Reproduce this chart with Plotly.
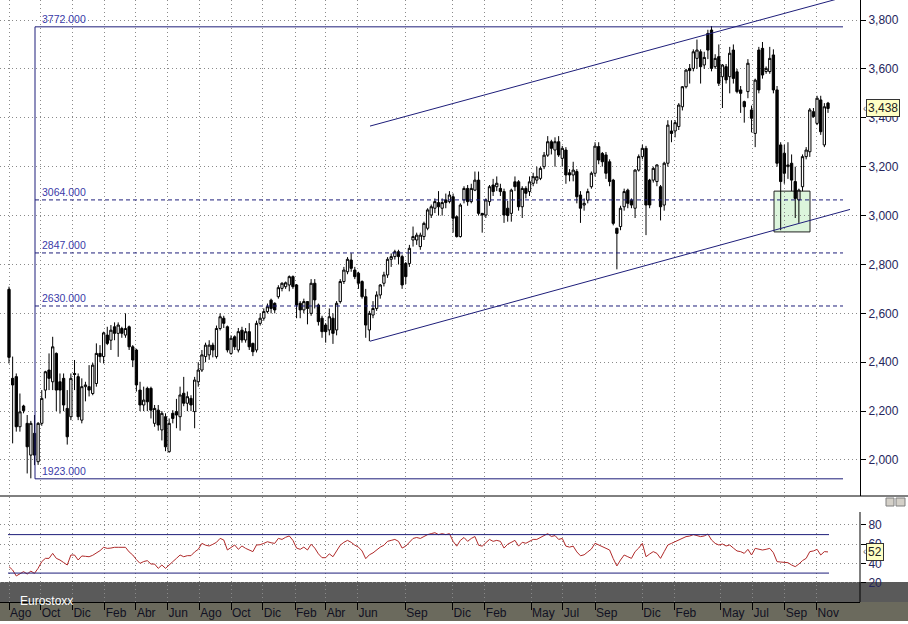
import pandas as pd
import plotly.graph_objects as go

# ---------------- data (weekly Eurostoxx candles) ----------------
start_date = "2011-08-01"

open_ = [
2698, 2334, 2341, 2136, 2221, 2150, 2020, 2109, 1993, 2150,
2286, 2368, 2320, 2436, 2320, 2334, 2211, 2177, 2354, 2341,
2163, 2300, 2300, 2272, 2313, 2436, 2423, 2511, 2490, 2545,
2518, 2538, 2511, 2545, 2463, 2450, 2286, 2225, 2293, 2293,
2150, 2204, 2123, 2177, 2034, 2191, 2198, 2177, 2273, 2232,
2252, 2198, 2320, 2368, 2423, 2430, 2470, 2423, 2538, 2580,
2545, 2436, 2504, 2450, 2531, 2491, 2525, 2477, 2450, 2559,
2580, 2607, 2654, 2641, 2668, 2702, 2709, 2716, 2750, 2716,
2641, 2614, 2648, 2600, 2723, 2634, 2580, 2552, 2532, 2580,
2532, 2648, 2730, 2770, 2818, 2777, 2764, 2730, 2668, 2532,
2593, 2620, 2675, 2723, 2757, 2821, 2832, 2852, 2832, 2804,
2804, 2900, 2900, 2873, 2914, 2948, 3002, 3030, 3053, 3030,
3064, 3057, 3077, 2995, 2914, 3064, 3111, 3057, 3104, 3145,
3009, 3002, 3057, 3125, 3118, 3111, 3098, 3030, 3009, 3138,
3138, 3036, 3111, 3098, 3132, 3145, 3152, 3200, 3247, 3302,
3268, 3302, 3234, 3268, 3175, 3166, 3180, 3084, 3043, 3063,
3118, 3173, 3282, 3254, 3248, 3220, 3145, 2948, 2955, 3036,
3104, 3063, 3030, 3186, 3241, 3275, 3145, 3145, 3139, 3118,
3043, 3214, 3346, 3346, 3364, 3445, 3527, 3602, 3602, 3643,
3670, 3616, 3745, 3759, 3609, 3650, 3568, 3609, 3568, 3677,
3588, 3514, 3466, 3507, 3432, 3336, 3677, 3684, 3589, 3589,
3657, 3514, 3289, 3255, 3200, 3214, 3139, 3064, 3118, 3241,
3261, 3425, 3377, 3473, 3289, 3460]

high = [
2709, 2423, 2354, 2272, 2226, 2184, 2160, 2184, 2155, 2286,
2365, 2436, 2504, 2440, 2354, 2354, 2286, 2354, 2409, 2354,
2334, 2320, 2388, 2397, 2477, 2470, 2525, 2545, 2552, 2563,
2563, 2545, 2600, 2550, 2470, 2455, 2320, 2300, 2300, 2300,
2225, 2225, 2200, 2191, 2170, 2204, 2250, 2300, 2340, 2280,
2265, 2340, 2400, 2450, 2480, 2490, 2480, 2550, 2600, 2590,
2550, 2510, 2510, 2540, 2545, 2540, 2560, 2480, 2570, 2600,
2620, 2640, 2660, 2645, 2715, 2727, 2730, 2755, 2755, 2720,
2650, 2660, 2650, 2740, 2740, 2640, 2590, 2560, 2620, 2600,
2650, 2740, 2790, 2830, 2846, 2790, 2770, 2735, 2700, 2610,
2650, 2690, 2720, 2770, 2830, 2845, 2860, 2860, 2840, 2810,
2880, 2955, 2930, 2930, 2975, 3030, 3045, 3070, 3100, 3070,
3090, 3100, 3090, 3000, 3050, 3120, 3125, 3130, 3180, 3180,
3010, 3070, 3125, 3150, 3160, 3130, 3110, 3060, 3110, 3160,
3145, 3120, 3120, 3160, 3175, 3200, 3200, 3260, 3325, 3310,
3320, 3325, 3285, 3280, 3190, 3220, 3190, 3100, 3070, 3110,
3180, 3300, 3300, 3260, 3260, 3230, 3150, 2950, 3040, 3110,
3110, 3070, 3190, 3250, 3290, 3285, 3150, 3200, 3210, 3125,
3220, 3390, 3390, 3390, 3460, 3530, 3600, 3620, 3680, 3720,
3680, 3670, 3760, 3775, 3660, 3700, 3620, 3620, 3690, 3700,
3600, 3530, 3470, 3640, 3450, 3560, 3690, 3710, 3610, 3690,
3680, 3530, 3300, 3290, 3300, 3250, 3200, 3110, 3250, 3280,
3440, 3440, 3490, 3490, 3460, 3465]

low = [
2395, 2068, 2116, 2116, 2191, 1945, 1925, 1979, 1980, 2140,
2252, 2286, 2286, 2200, 2190, 2200, 2063, 2163, 2286, 2163,
2150, 2240, 2260, 2265, 2300, 2400, 2395, 2470, 2450, 2490,
2422, 2500, 2500, 2450, 2380, 2280, 2200, 2200, 2200, 2170,
2136, 2120, 2080, 2036, 2030, 2150, 2130, 2120, 2220, 2200,
2200, 2130, 2300, 2360, 2400, 2410, 2420, 2415, 2530, 2540,
2440, 2430, 2450, 2440, 2480, 2480, 2450, 2425, 2440, 2550,
2570, 2600, 2600, 2600, 2660, 2690, 2700, 2690, 2700, 2580,
2580, 2600, 2555, 2590, 2620, 2550, 2500, 2480, 2510, 2475,
2510, 2640, 2720, 2760, 2770, 2740, 2700, 2660, 2500, 2486,
2580, 2610, 2660, 2710, 2745, 2790, 2820, 2800, 2700, 2720,
2790, 2873, 2880, 2860, 2900, 2940, 2990, 3010, 3000, 3000,
3030, 3050, 2930, 2910, 2910, 3050, 3040, 3050, 3100, 3000,
2930, 2990, 3040, 3080, 3100, 3080, 2970, 2975, 2975, 3100,
3020, 2990, 3070, 3080, 3120, 3130, 3145, 3190, 3240, 3250,
3200, 3240, 3200, 3130, 3140, 3140, 3050, 2970, 3020, 3050,
3110, 3160, 3210, 3200, 3150, 3120, 2960, 2780, 2940, 3020,
3030, 3030, 2990, 3180, 3230, 2920, 3030, 3135, 3120, 2980,
3020, 3200, 3300, 3320, 3350, 3430, 3520, 3540, 3590, 3600,
3540, 3600, 3640, 3590, 3600, 3530, 3440, 3540, 3500, 3540,
3500, 3420, 3380, 3480, 3340, 3280, 3500, 3560, 3580, 3580,
3500, 3200, 2940, 3130, 3150, 3100, 2990, 2970, 3100, 3230,
3240, 3400, 3370, 3330, 3280, 3420]

close = [
2420, 2307, 2136, 2197, 2202, 2054, 2150, 2020, 2150, 2252,
2361, 2334, 2463, 2286, 2286, 2225, 2095, 2334, 2350, 2177,
2300, 2307, 2286, 2388, 2436, 2423, 2520, 2477, 2531, 2518,
2552, 2518, 2538, 2463, 2409, 2307, 2225, 2245, 2238, 2204,
2211, 2143, 2191, 2054, 2150, 2170, 2184, 2266, 2232, 2259,
2225, 2327, 2368, 2430, 2470, 2470, 2450, 2538, 2586, 2559,
2450, 2498, 2463, 2525, 2491, 2525, 2463, 2443, 2559, 2580,
2607, 2627, 2620, 2614, 2705, 2723, 2725, 2750, 2709, 2634,
2614, 2648, 2620, 2723, 2655, 2566, 2525, 2525, 2586, 2518,
2641, 2730, 2777, 2821, 2784, 2750, 2723, 2668, 2552, 2600,
2620, 2675, 2716, 2757, 2821, 2832, 2852, 2832, 2716, 2750,
2866, 2914, 2920, 2920, 2968, 3023, 3036, 3057, 3036, 3053,
3053, 3084, 2989, 2914, 3043, 3111, 3057, 3111, 3145, 3009,
3002, 3064, 3118, 3098, 3132, 3098, 3002, 3000, 3104, 3118,
3036, 3111, 3091, 3138, 3159, 3159, 3193, 3247, 3302, 3275,
3302, 3248, 3275, 3166, 3166, 3186, 3077, 3030, 3050, 3098,
3173, 3284, 3227, 3220, 3173, 3139, 2968, 2927, 3030, 3098,
3050, 3043, 3186, 3241, 3275, 3043, 3043, 3193, 3207, 3036,
3214, 3370, 3336, 3380, 3452, 3527, 3595, 3593, 3670, 3677,
3609, 3647, 3677, 3602, 3643, 3541, 3616, 3555, 3664, 3561,
3507, 3500, 3445, 3623, 3398, 3554, 3514, 3575, 3602, 3643,
3514, 3214, 3139, 3173, 3207, 3145, 3070, 3104, 3241, 3268,
3432, 3405, 3480, 3343, 3445, 3438]

rsi = [
36.7, 33.2, 27.0, 29.7, 31.5, 29.0, 32.0, 29.7, 35.0, 41.9,
45.3, 45.3, 50.5, 45.3, 43.6, 41.0, 38.4, 48.8, 48.8, 43.6,
47.8, 47.4, 47.0, 48.5, 51.0, 53.3, 56.8, 55.7, 56.0, 56.8,
56.8, 56.8, 56.8, 52.0, 48.8, 44.0, 40.1, 42.0, 42.9, 39.4,
39.4, 34.9, 38.4, 34.9, 38.0, 41.9, 45.3, 48.8, 47.0, 48.1,
48.1, 52.0, 54.7, 60.9, 59.0, 58.2, 59.9, 62.0, 66.1, 64.4,
54.0, 57.0, 59.2, 54.7, 58.2, 55.7, 54.0, 52.3, 59.2, 59.5,
60.9, 62.6, 61.5, 60.9, 66.1, 65.0, 67.2, 68.6, 64.0, 56.0,
54.7, 57, 54, 60, 56, 50, 46, 46, 50, 47,
53, 59, 62, 64, 62, 59, 57, 53, 45, 49,
51, 54, 57, 59, 63, 64, 65, 63, 56, 58,
62, 66, 67, 66, 68, 70, 71, 72, 70, 71,
70, 71, 63, 58, 64, 67, 63, 66, 68, 59,
58, 62, 65, 63, 64, 63, 56, 60, 62, 64,
58, 62, 61, 63, 65, 65, 67, 69, 71, 68,
69, 65, 66, 58, 57, 58, 52, 48, 49, 52,
55, 61, 59.2, 58.2, 56, 54, 45, 37.4, 43.6, 48.8,
47, 45.3, 52.3, 56, 60.9, 47, 49.8, 52.3, 50.5, 45.3,
52.3, 59.2, 60.9, 62.6, 64.5, 66.1, 67.9, 68.5, 70, 69,
67.9, 68.6, 70.6, 64.4, 60.9, 59.2, 60.2, 58.2, 59.2, 56,
53, 52.3, 50.5, 54.7, 48.8, 55.7, 54.5, 54, 54.7, 55.7,
51.2, 41.9, 41.5, 40.8, 40.8, 38.4, 36.7, 39.4, 43, 45.3,
52.3, 53, 54.7, 48.8, 52.3, 52]

tick_dates = ["2011-08-01", "2011-10-01", "2011-12-01", "2012-02-01", "2012-04-01",
              "2012-06-01", "2012-08-01", "2012-10-01", "2012-12-01", "2013-02-01",
              "2013-04-01", "2013-06-01", "2013-09-01", "2013-12-01", "2014-02-01",
              "2014-05-01", "2014-07-01", "2014-09-01", "2014-12-01", "2015-02-01",
              "2015-05-01", "2015-07-01", "2015-09-01", "2015-11-01"]
tick_labels = ["Ago", "Oct", "Dic", "Feb", "Abr", "Jun", "Ago", "Oct", "Dic", "Feb",
               "Abr", "Jun", "Sep", "Dic", "Feb", "May", "Jul", "Sep", "Dic", "Feb",
               "May", "Jul", "Sep", "Nov"]
price_ticks = [2000, 2200, 2400, 2600, 2800, 3000, 3200, 3400, 3600, 3800]
rsi_ticks = [20, 40, 60, 80]
levels_solid = [3772, 1923]
levels_dashed = [3064, 2847, 2630]
last_price = 3438
last_rsi = 52

# ---------------- helpers (pixel geometry) ----------------
W, H = 908, 624
PX_PER_WEEK = 3.64
X0_PX = 9  # pixel of first candle
t0 = pd.Timestamp(start_date)
dates = pd.date_range(t0, periods=len(close), freq="7D")


def wk_px(px):
    return t0 + pd.Timedelta(days=7 * (px - X0_PX) / PX_PER_WEEK)


def py(px):  # paper y from pixel
    return 1 - px / H


def pxx(px):  # paper x from pixel
    return px / W


NAVY = "#1e1e7a"
GRID = "#8a8a8a"
LBL = "#3a3aa8"

fig = go.Figure()
fig.add_trace(go.Candlestick(
    x=dates, open=open_, high=high, low=low, close=close,
    xaxis="x", yaxis="y", whiskerwidth=0,
    increasing=dict(line=dict(color="black", width=1), fillcolor="white"),
    decreasing=dict(line=dict(color="black", width=1), fillcolor="black"),
    showlegend=False, hoverinfo="skip"))
fig.add_trace(go.Scatter(
    x=dates, y=rsi, xaxis="x2", yaxis="y2", mode="lines",
    line=dict(color="#b02a2a", width=1), showlegend=False, hoverinfo="skip"))

shapes = []
# background bands
shapes.append(dict(type="rect", xref="paper", yref="paper", x0=0, x1=1,
                   y0=py(602), y1=py(582), fillcolor="#5a5a5a", line_width=0, layer="below"))
shapes.append(dict(type="rect", xref="paper", yref="paper", x0=0, x1=1,
                   y0=py(621), y1=py(602), fillcolor="#6b6a5d", line_width=0, layer="below"))
# green box
shapes.append(dict(type="rect", xref="x", yref="y", x0=wk_px(774), x1=wk_px(810),
                   y0=2933, y1=3100, fillcolor="#dcf5dc", line=dict(color="#222", width=1),
                   layer="below"))
# horizontal levels
for lv in levels_solid:
    shapes.append(dict(type="line", xref="x", yref="y", x0=wk_px(35), x1=wk_px(843),
                       y0=lv, y1=lv, line=dict(color=NAVY, width=1)))
for lv in levels_dashed:
    shapes.append(dict(type="line", xref="x", yref="y", x0=wk_px(35), x1=wk_px(843),
                       y0=lv, y1=lv, line=dict(color=NAVY, width=1, dash="4px,3px")))
shapes.append(dict(type="line", xref="x", yref="y", x0=wk_px(35), x1=wk_px(35),
                   y0=1923, y1=3772, line=dict(color=NAVY, width=1)))
# channel lines
shapes.append(dict(type="line", xref="x", yref="y", x0=wk_px(370), x1=wk_px(850),
                   y0=3366, y1=3900, line=dict(color=NAVY, width=1)))
shapes.append(dict(type="line", xref="x", yref="y", x0=wk_px(370), x1=wk_px(850),
                   y0=2486, y1=3025, line=dict(color=NAVY, width=1)))
# rsi 70/30 lines
for lv in (70, 30):
    shapes.append(dict(type="line", xref="x2", yref="y2", x0=wk_px(8), x1=wk_px(829),
                       y0=lv, y1=lv, line=dict(color=NAVY, width=1)))
# panel separator and rsi axis line
shapes.append(dict(type="line", xref="paper", yref="paper", x0=0, x1=1,
                   y0=py(496), y1=py(496), line=dict(color="black", width=1)))
shapes.append(dict(type="line", xref="paper", yref="paper", x0=pxx(860), x1=pxx(860),
                   y0=py(602), y1=py(512), line=dict(color="black", width=1)))
# tiny window icons
shapes.append(dict(type="rect", xref="paper", yref="paper", x0=pxx(886), x1=pxx(894),
                   y0=py(506), y1=py(498), fillcolor="#d4d0c8", line=dict(color="#808080", width=1)))
shapes.append(dict(type="rect", xref="paper", yref="paper", x0=pxx(896), x1=pxx(905),
                   y0=py(506), y1=py(498), fillcolor="#d4d0c8", line=dict(color="#808080", width=1)))

annotations = []
for lv in levels_solid + levels_dashed:
    annotations.append(dict(xref="paper", yref="y", x=pxx(40), y=lv, yshift=8,
                            text=f"{lv}.000", showarrow=False, xanchor="left", yanchor="middle",
                            font=dict(family="Liberation Sans, Arial", size=10.5, color=LBL)))
annotations.append(dict(xref="paper", yref="y", x=pxx(866), y=last_price,
                        text=f"{last_price:,}", showarrow=False, xanchor="left", yanchor="middle",
                        bgcolor="#ffffc4", bordercolor="#333", borderwidth=1, borderpad=1,
                        font=dict(family="Liberation Sans, Arial", size=12, color="#222")))
annotations.append(dict(xref="paper", yref="y", x=pxx(861), y=last_price,
                        text="‹", showarrow=False, xanchor="left", yanchor="middle",
                        font=dict(family="Liberation Sans, Arial", size=10, color="#666")))
annotations.append(dict(xref="paper", yref="y2", x=pxx(866), y=last_rsi,
                        text=f"{last_rsi}", showarrow=False, xanchor="left", yanchor="middle",
                        bgcolor="#ffffc4", bordercolor="#333", borderwidth=1, borderpad=1,
                        font=dict(family="Liberation Sans, Arial", size=12, color="#222")))
annotations.append(dict(xref="paper", yref="y2", x=pxx(861), y=last_rsi,
                        text="‹", showarrow=False, xanchor="left", yanchor="middle",
                        font=dict(family="Liberation Sans, Arial", size=10, color="#666")))
annotations.append(dict(xref="paper", yref="paper", x=pxx(18), y=py(601),
                        text="Eurostoxx", showarrow=False, xanchor="left", yanchor="middle",
                        font=dict(family="Liberation Sans, Arial", size=12, color="white")))

xrange = [wk_px(0), wk_px(860)]
xdom = [0, pxx(860)]
fig.update_layout(
    width=W, height=H, margin=dict(l=0, r=0, t=0, b=0),
    paper_bgcolor="white", plot_bgcolor="white", showlegend=False,
    boxgap=0.1,
    xaxis=dict(domain=xdom, range=xrange, type="date", anchor="y",
               tickvals=tick_dates, showticklabels=False, ticks="",
               showgrid=True, gridcolor=GRID, griddash="1px,3px", gridwidth=1,
               zeroline=False, showline=False, rangeslider=dict(visible=False)),
    xaxis2=dict(domain=xdom, range=xrange, type="date", anchor="y2", matches="x",
                tickvals=tick_dates, ticktext=tick_labels, ticks="outside", ticklen=7,
                tickcolor="black", ticklabelposition="outside right",
                tickfont=dict(family="Liberation Sans, Arial", size=12, color="#111122"),
                showgrid=True, gridcolor=GRID, griddash="1px,3px", gridwidth=1,
                zeroline=False, showline=True, linecolor="black", linewidth=1),
    yaxis=dict(domain=[py(496), 1], range=[1852.7, 3881.8], side="right", anchor="x",
               tickvals=price_ticks, tickformat=",d", ticks="outside", ticklen=5,
               tickcolor="black", showline=True, linecolor="black", linewidth=1,
               tickfont=dict(family="Liberation Sans, Arial", size=12, color="#26265c"),
               showgrid=True, gridcolor=GRID, griddash="1px,3px", gridwidth=1, zeroline=False),
    yaxis2=dict(domain=[py(602), py(497)], range=[-0.07, 109.1], side="right", anchor="x2",
                tickvals=rsi_ticks, ticks="outside", ticklen=5, tickcolor="black",
                showline=False,
                tickfont=dict(family="Liberation Sans, Arial", size=12, color="#26265c"),
                showgrid=True, gridcolor=GRID, griddash="1px,3px", gridwidth=1, zeroline=False),
    shapes=shapes, annotations=annotations,
)

fig.write_html("out.html", config={"displayModeBar": False},
               post_script="document.body.style.margin='0px';document.body.style.overflow='hidden';")
